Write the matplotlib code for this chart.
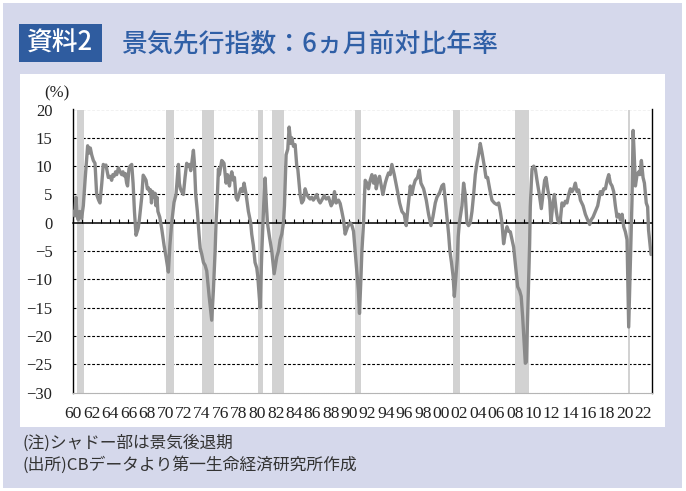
import matplotlib
matplotlib.use("Agg")
import matplotlib.pyplot as plt
from matplotlib.patches import Rectangle

# ---------------- data ----------------
years = [
    1960.0, 1960.15, 1960.29, 1960.4, 1960.54, 1960.7, 1960.9, 1961.09, 1961.3, 1961.56,
    1961.7, 1961.85, 1962.0, 1962.18, 1962.36, 1962.54, 1962.75, 1962.9, 1963.1, 1963.26,
    1963.4, 1963.55, 1963.81, 1964.0, 1964.17, 1964.3, 1964.43, 1964.6, 1964.72, 1964.9,
    1965.1, 1965.26, 1965.4, 1965.51, 1965.65, 1965.8, 1965.9, 1966.05, 1966.17, 1966.35,
    1966.5, 1966.65, 1966.82, 1966.95, 1967.05, 1967.18, 1967.44, 1967.6, 1967.75, 1967.91,
    1968.05, 1968.16, 1968.3, 1968.41, 1968.5, 1968.63, 1968.78, 1968.9, 1968.99, 1969.1,
    1969.2, 1969.4, 1969.61, 1969.87, 1970.08, 1970.34, 1970.5, 1970.7, 1970.95, 1971.17,
    1971.43, 1971.53, 1971.65, 1971.79, 1971.97, 1972.15, 1972.33, 1972.5, 1972.62, 1972.77,
    1972.88, 1973.06, 1973.17, 1973.31, 1973.49, 1973.67, 1973.8, 1973.96, 1974.15, 1974.33,
    1974.51, 1974.76, 1975.05, 1975.23, 1975.42, 1975.52, 1975.67, 1975.78, 1975.89, 1976.14,
    1976.25, 1976.39, 1976.61, 1976.76, 1976.98, 1977.1, 1977.23, 1977.41, 1977.52, 1977.7,
    1977.85, 1978.21, 1978.4, 1978.57, 1978.79, 1979.04, 1979.29, 1979.4, 1979.58, 1979.76,
    1979.95, 1980.06, 1980.31, 1980.5, 1980.7, 1980.86, 1981.0, 1981.11, 1981.33, 1981.58,
    1981.84, 1982.13, 1982.31, 1982.49, 1982.67, 1982.85, 1982.96, 1983.14, 1983.32, 1983.47,
    1983.65, 1983.76, 1983.94, 1984.12, 1984.3, 1984.41, 1984.66, 1984.84, 1985.03, 1985.21,
    1985.39, 1985.57, 1985.75, 1985.93, 1986.1, 1986.3, 1986.48, 1986.65, 1986.84, 1987.02,
    1987.28, 1987.5, 1987.75, 1988.04, 1988.2, 1988.4, 1988.58, 1988.84, 1989.02, 1989.2,
    1989.38, 1989.56, 1989.81, 1990.1, 1990.3, 1990.47, 1990.65, 1990.9, 1991.0, 1991.12,
    1991.27, 1991.38, 1991.56, 1991.67, 1991.74, 1991.92, 1992.1, 1992.28, 1992.47, 1992.65,
    1992.83, 1992.94, 1993.12, 1993.3, 1993.55, 1993.66, 1993.92, 1994.1, 1994.28, 1994.46,
    1994.64, 1994.9, 1995.26, 1995.48, 1995.73, 1995.98, 1996.2, 1996.38, 1996.64, 1996.82,
    1997.0, 1997.18, 1997.43, 1997.62, 1997.8, 1998.09, 1998.38, 1998.63, 1998.89, 1999.1,
    1999.36, 1999.54, 1999.83, 2000.08, 2000.26, 2000.45, 2000.63, 2000.81, 2000.95, 2001.12,
    2001.3, 2001.43, 2001.6, 2001.75, 2001.85, 2001.98, 2002.26, 2002.44, 2002.62, 2002.8,
    2002.98, 2003.17, 2003.35, 2003.53, 2003.71, 2003.89, 2004.07, 2004.25, 2004.43, 2004.69,
    2004.87, 2005.05, 2005.27, 2005.52, 2005.78, 2006.07, 2006.25, 2006.43, 2006.61, 2006.79,
    2006.97, 2007.16, 2007.34, 2007.52, 2007.88, 2008.17, 2008.32, 2008.53, 2008.7, 2008.86,
    2009.02, 2009.15, 2009.26, 2009.33, 2009.47, 2009.62, 2009.69, 2009.8, 2009.88, 2010.06,
    2010.24, 2010.42, 2010.67, 2010.89, 2011.07, 2011.25, 2011.4, 2011.58, 2011.8, 2011.94,
    2012.12, 2012.31, 2012.52, 2012.67, 2012.81, 2012.96, 2013.14, 2013.32, 2013.5, 2013.68,
    2013.87, 2014.05, 2014.23, 2014.41, 2014.59, 2014.77, 2014.95, 2015.14, 2015.43, 2015.68,
    2015.93, 2016.15, 2016.3, 2016.51, 2016.77, 2017.02, 2017.31, 2017.49, 2017.67, 2017.86,
    2018.04, 2018.22, 2018.4, 2018.58, 2018.76, 2018.94, 2019.12, 2019.3, 2019.49, 2019.67,
    2019.85, 2020.03, 2020.21, 2020.39, 2020.6, 2020.75, 2020.87, 2020.97, 2021.12, 2021.3,
    2021.48, 2021.6, 2021.77, 2021.95, 2022.1, 2022.3, 2022.45, 2022.55, 2022.7, 2022.82,
]
lei_6m = [
    2.0, 1.2, 4.5, 1.5, 0.5, 2.0, 0.8, 3.0, 8.0, 13.6,
    12.3, 13.2, 12.0, 11.0, 10.5, 5.0, 4.0, 3.5, 7.0, 10.3,
    10.0, 10.2, 8.0, 8.2, 7.5, 8.5, 8.2, 9.0, 8.5, 9.7,
    9.0, 8.5, 9.0, 8.3, 8.7, 7.0, 6.5, 9.5, 10.0, 10.3,
    7.0, 2.0, -2.2, -1.5, -1.0, 0.5, 4.5, 8.4, 8.0, 7.5,
    6.0, 6.2, 5.5, 5.8, 3.5, 5.5, 4.5, 5.2, 3.0, 4.5,
    2.0, 1.0, -1.0, -4.0, -6.0, -8.7, -4.0, 0.0, 3.6, 5.0,
    10.3, 7.0, 6.0, 5.5, 5.0, 8.0, 10.5, 10.0, 10.3, 9.2,
    10.5, 12.8, 10.5, 5.0, 2.0, -2.0, -4.5, -5.5, -7.0, -7.5,
    -8.5, -12.8, -17.2, -12.0, -5.0, 0.0, 5.0, 9.5, 8.5, 11.0,
    10.8, 10.5, 7.0, 8.5, 6.5, 8.0, 9.0, 7.5, 8.0, 4.5,
    4.0, 6.0, 5.5, 7.0, 5.0, 2.0, 0.0, -2.0, -4.0, -7.0,
    -8.0, -9.5, -15.0, -5.0, 3.0, 7.9, 3.0, 0.0, -2.5, -5.0,
    -9.0, -6.0, -5.0, -3.0, -2.0, 0.0, 3.0, 12.0, 13.0, 16.9,
    14.0, 15.0, 13.5, 13.8, 10.0, 9.5, 5.0, 3.5, 4.0, 6.0,
    5.0, 4.5, 4.2, 4.5, 4.0, 4.5, 5.0, 4.0, 3.5, 4.0,
    4.8, 4.2, 4.5, 3.0, 3.5, 5.5, 3.5, 4.0, 3.4, 2.0,
    0.5, -2.0, -0.8, 0.0, -0.5, -1.5, -5.0, -10.0, -12.0, -16.0,
    -10.0, -5.0, 0.0, 5.0, 7.5, 7.0, 6.0, 7.5, 8.5, 7.0,
    8.3, 6.0, 7.5, 8.2, 6.0, 5.0, 7.0, 8.0, 8.8, 8.5,
    10.3, 8.5, 5.5, 3.5, 2.0, 1.5, -0.5, 2.5, 6.5, 5.0,
    6.5, 7.5, 8.0, 9.3, 7.0, 6.0, 4.0, 1.5, -0.5, 1.0,
    3.5, 4.5, 5.3, 6.5, 6.8, 4.0, 1.0, -2.0, -5.0, -7.0,
    -9.5, -13.0, -9.5, -6.5, -2.5, 0.0, 3.0, 7.0, 5.0, 0.0,
    -0.5, 0.0, 2.0, 5.0, 8.5, 10.5, 12.0, 14.0, 12.5, 10.0,
    8.0, 8.0, 6.0, 4.0, 3.5, 3.2, 3.5, 2.0, 0.0, -3.7,
    -1.9, -0.7, -1.5, -1.6, -4.3, -9.0, -11.3, -12.0, -13.0, -16.6,
    -21.0, -24.8, -24.6, -20.8, -12.6, -3.7, 2.8, 7.0, 9.5, 10.0,
    9.5, 7.5, 5.0, 2.5, 5.0, 7.5, 8.0, 6.0, 4.0, 0.0,
    3.0, 5.0, 2.0, 0.5, 0.0, 0.5, 3.5, 3.0, 3.8, 3.5,
    5.0, 6.0, 5.5, 6.0, 7.0, 5.5, 5.8, 4.0, 3.0, 1.5,
    0.5, -0.3, 0.5, 1.0, 2.0, 3.0, 5.5, 5.0, 6.0, 6.0,
    7.5, 8.5, 7.0, 6.5, 5.5, 3.0, 1.0, 1.5, 0.5, 1.5,
    -0.7, -1.6, -3.0, -18.4, -5.0, 4.0, 16.3, 12.8, 6.5, 8.5,
    9.0, 8.5, 11.0, 8.0, 7.0, 3.5, 2.8, -1.3, -3.7, -5.6,
]
recession_start = [1960.36, 1970.05, 1973.96, 1980.13, 1981.65, 1990.65, 2001.24, 2008.06, 2020.35]
recession_end   = [1961.16, 1970.95, 1975.31, 1980.60, 1982.92, 1991.27, 2002.00, 2009.55, 2020.50]
x_tick_years = list(range(1960, 2023, 2))
x_tick_labels = ["%02d" % (y % 100) for y in x_tick_years]
minor_tick_years = list(range(1960, 2023))
y_ticks = [20, 15, 10, 5, 0, -5, -10, -15, -20, -25, -30]
x_range = (1960.0, 2022.87)
y_range = (-30, 20)

title_tag = "資料2"
title_text = "景気先行指数：6ヵ月前対比年率"
note_text = "(注)シャドー部は景気後退期"
source_text = "(出所)CBデータより第一生命経済研究所作成"
unit_text = "(%)"

# ---------------- figure ----------------
W, H = 686, 491
fig = plt.figure(figsize=(W / 100, H / 100), dpi=100)
fig.patch.set_facecolor("white")

def frect(x0, y0, x1, y1, color, z=0):
    fig.add_artist(Rectangle((x0 / W, 1 - y1 / H), (x1 - x0) / W, (y1 - y0) / H,
                             transform=fig.transFigure, facecolor=color,
                             edgecolor="none", zorder=z))

frect(3, 3, 682, 488, "#d5d8eb", z=-10)   # lavender panel
frect(19.5, 74, 665, 427, "white", z=-9)  # white chart panel
frect(19.3, 24, 101.7, 62.3, "#2f5c9f", z=-8)  # title tag box

cjk = ["Noto Sans CJK JP", "DejaVu Sans"]
fig.text(60.5 / W, 1 - 43.5 / H, title_tag, color="white", fontsize=18.5,
         family=cjk, weight="medium", ha="center", va="center")
fig.text(121 / W, 1 - 43.5 / H, title_text, color="#2f5fa6", fontsize=18.6,
         family=cjk, weight="medium", ha="left", va="center")
fig.text(22 / W, 1 - 443 / H, note_text, color="#333333", fontsize=12,
         family=cjk, ha="left", va="center")
fig.text(22 / W, 1 - 465 / H, source_text, color="#333333", fontsize=12.1,
         family=cjk, ha="left", va="center")

# axes
L, R, T, B = 73.3, 651.5, 109.5, 392.7
ax = fig.add_axes([L / W, 1 - B / H, (R - L) / W, (B - T) / H])
ax.set_facecolor("none")
ax.set_xlim(*x_range)
ax.set_ylim(*y_range)

# dashed grid lines (not at 0 and bottom)
for v in y_ticks:
    if v not in (0, y_range[0]):
        ax.axhline(v, color="black", lw=0.8, linestyle=(0, (2.6, 1.6)), zorder=1)

# recession shading
for s, e in zip(recession_start, recession_end):
    ax.axvspan(s, e, color="#d2d2d2", lw=0, zorder=2)

# data line
ax.plot(years, lei_6m, color="#8a8a8a", lw=2.4, zorder=5,
        solid_joinstyle="round", solid_capstyle="round")

# spines
ax.spines["top"].set_visible(False)
for side in ("left", "right"):
    ax.spines[side].set_color("black")
    ax.spines[side].set_linewidth(1.0)
ax.spines["bottom"].set_color("#b5b5b5")
ax.spines["bottom"].set_linestyle((0, (1.2, 0.8)))
ax.spines["bottom"].set_linewidth(0.8)

# y ticks
ax.set_yticks(y_ticks)
ax.set_yticklabels([str(v).replace("-", "\u2212") for v in y_ticks])
ax.tick_params(axis="y", length=0, pad=15, labelsize=12)
for t in ax.get_yticklabels():
    t.set_family("Liberation Serif")
    t.set_color("#222222")

# x tick labels at bottom
ax.set_xticks(x_tick_years)
ax.set_xticklabels(x_tick_labels)
ax.tick_params(axis="x", length=0, pad=9.5, labelsize=12.6)
for t in ax.get_xticklabels():
    t.set_family("Liberation Serif")
    t.set_color("#222222")

# zero line with yearly ticks
frac0 = (0 - y_range[0]) / (y_range[1] - y_range[0])
sec = ax.secondary_xaxis(frac0)
sec.set_zorder(3)
sec.set_xticks(minor_tick_years)
sec.tick_params(direction="out", length=3.2, width=0.8, color="black",
                labeltop=False, labelbottom=False)
for sp in sec.spines.values():
    sp.set_linewidth(1.1)
    sp.set_color("black")

# unit label
fig.text(57 / W, 1 - 93 / H, unit_text, fontsize=12, family="Liberation Serif",
         color="#222222", ha="center", va="center")

fig.savefig("out.png", dpi=100, facecolor=fig.get_facecolor())
